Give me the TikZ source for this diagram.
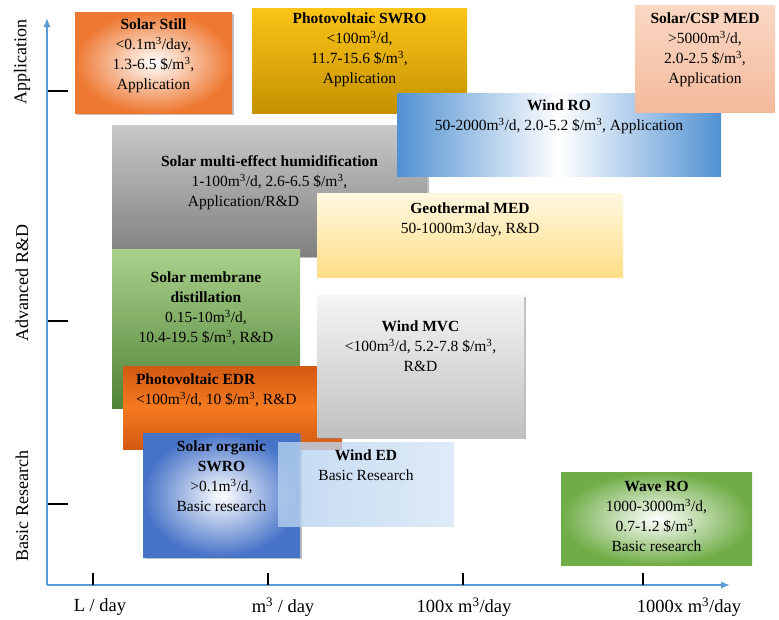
\documentclass[tikz,border=0pt]{standalone}
\usepackage{fontspec}
\setmainfont{Liberation Serif}
\usetikzlibrary{positioning, shadows, arrows.meta}

\definecolor{axisblue}{RGB}{91,155,213}
\definecolor{stillorange}{RGB}{238,120,50}
\definecolor{swroyellow}{RGB}{252,196,24}
\definecolor{swrogold}{RGB}{196,146,0}
\definecolor{csplight}{RGB}{250,216,196}
\definecolor{cspdark}{RGB}{244,186,156}
\definecolor{roblue}{RGB}{80,145,210}
\definecolor{humidlight}{RGB}{200,200,200}
\definecolor{humiddark}{RGB}{128,128,128}
\definecolor{geolight}{RGB}{255,248,225}
\definecolor{geodark}{RGB}{255,222,135}
\definecolor{mdlight}{RGB}{170,210,140}
\definecolor{mddark}{RGB}{80,130,55}
\definecolor{mvclight}{RGB}{245,245,245}
\definecolor{mvcdark}{RGB}{192,192,192}
\definecolor{edrdark}{RGB}{210,90,18}
\definecolor{edrlight}{RGB}{245,122,32}
\definecolor{orgblue}{RGB}{70,115,200}
\definecolor{edlight}{RGB}{215,230,245}
\definecolor{eddark}{RGB}{180,208,238}
\definecolor{wavegreen}{RGB}{112,173,71}

\begin{document}
\begin{tikzpicture}[x=1pt, y=-1pt,
  box/.style={rectangle, inner sep=0pt},
  txt/.style={align=center, inner sep=0pt, font=\fontsize{15.5}{20}\selectfont},
  lvl/.style={rotate=90, font=\fontsize{18}{20}\selectfont},
  scalelabel/.style={font=\fontsize{18.5}{20}\selectfont},
  axisline/.style={draw=axisblue, line width=1.3pt, -{Latex[length=9pt,width=7pt]}},
  tickmark/.style={line width=2.2pt}]
  \useasboundingbox (0,0) rectangle (779,619);

  % technology boxes, back to front
  \node[box, minimum width=157pt, minimum height=101pt, drop shadow, inner color=white, outer color=stillorange] (still) at (153.5,62.5) {};
  \node[txt, below=7pt of still.north] (stilltxt) {\textbf{Solar Still}\\<0.1m\textsuperscript{3}/day,\\1.3-6.5 \$/m\textsuperscript{3},\\Application};

  \node[box, minimum width=215pt, minimum height=105pt, top color=swroyellow, bottom color=swrogold] (pvswro) at (359.5,60.5) {};
  \node[txt, below=5pt of pvswro.north] (pvswrotxt) {\textbf{Photovoltaic SWRO}\\<100m\textsuperscript{3}/d,\\11.7-15.6 \$/m\textsuperscript{3},\\Application};

  \node[box, minimum width=315pt, minimum height=131pt, drop shadow, top color=humidlight, bottom color=humiddark] (humid) at (269.5,190.5) {};
  \node[txt, below=31pt of humid.north] (humidtxt) {\textbf{Solar multi-effect humidification}\\1-100m\textsuperscript{3}/d, 2.6-6.5 \$/m\textsuperscript{3},\hspace*{36pt}\\Application/R\&D\hspace*{52pt}};

  \node[box, minimum width=324pt, minimum height=83pt, left color=roblue, right color=roblue, middle color=white] (windro) at (559,134.5) {};
  \node[txt, below=7pt of windro.north] (windrotxt) {\textbf{Wind RO}\\50-2000m\textsuperscript{3}/d, 2.0-5.2 \$/m\textsuperscript{3}, Application};

  \node[box, minimum width=140pt, minimum height=107pt, top color=csplight, bottom color=cspdark] (csp) at (705,58.5) {};
  \node[txt, below=8pt of csp.north] (csptxt) {\textbf{Solar/CSP MED}\\>5000m\textsuperscript{3}/d,\\2.0-2.5 \$/m\textsuperscript{3},\\Application};

  \node[box, minimum width=306pt, minimum height=84pt, top color=geolight, bottom color=geodark] (geo) at (470,235) {};
  \node[txt, below=10pt of geo.north] (geotxt) {\textbf{Geothermal MED}\\50-1000m3/day, R\&D};

  \node[box, minimum width=188pt, minimum height=159pt, top color=mdlight, bottom color=mddark] (memb) at (206,328.5) {};
  \node[txt, below=23pt of memb.north] (membtxt) {\textbf{Solar membrane}\\\textbf{distillation}\\0.15-10m\textsuperscript{3}/d,\\10.4-19.5 \$/m\textsuperscript{3}, R\&D};

  \node[box, minimum width=219pt, minimum height=83pt, top color=edrdark, bottom color=edrdark, middle color=edrlight] (edr) at (232.5,407.5) {};
  \node[txt, align=left, below right=8pt and 13pt of edr.north west] (edrtxt) {\textbf{Photovoltaic EDR}\\<100m\textsuperscript{3}/d, 10 \$/m\textsuperscript{3}, R\&D};

  \node[box, minimum width=207pt, minimum height=142pt, drop shadow, top color=mvclight, bottom color=mvcdark] (mvc) at (420.5,366) {};
  \node[txt, below=26pt of mvc.north] (mvctxt) {\textbf{Wind MVC}\\<100m\textsuperscript{3}/d, 5.2-7.8 \$/m\textsuperscript{3},\\R\&D};

  \node[box, minimum width=157pt, minimum height=124pt, drop shadow, inner color=white, outer color=orgblue] (organic) at (221.5,495) {};
  \node[txt, below=8pt of organic.north] (organictxt) {\textbf{Solar organic}\\\textbf{SWRO}\\>0.1m\textsuperscript{3}/d,\\Basic research};

  \node[box, minimum width=176pt, minimum height=84pt, fill opacity=0.8, left color=eddark, right color=edlight] (winded) at (366,484) {};
  \node[txt, below=8pt of winded.north] (windedtxt) {\textbf{Wind ED}\\Basic Research};

  \node[box, minimum width=191pt, minimum height=93pt, inner color=white, outer color=wavegreen] (wave) at (656.5,518.5) {};
  \node[txt, below=9pt of wave.north] (wavetxt) {\textbf{Wave RO}\\1000-3000m\textsuperscript{3}/d,\\0.7-1.2 \$/m\textsuperscript{3},\\Basic research};

  % axes
  \coordinate (o) at (47,585);
  \coordinate (ytip) at (47,18);
  \coordinate (xtip) at (730,585);
  \draw[axisline] (o) -- (ytip);
  \draw[axisline] (o) -- (xtip);

  \foreach \y in {91,321,504}
    \draw[tickmark] (48,\y) -- (68,\y);
  \foreach \x in {93,268,463,643}
    \draw[tickmark] (\x,573) -- (\x,585);

  \node[lvl] (app) at (22,62) {Application};
  \node[lvl] (adv) at (22,283) {Advanced R\&D};
  \node[lvl] (basic) at (22,506) {Basic Research};

  \node[scalelabel] (lday) at (100,607) {L / day};
  \node[scalelabel] (mday) at (283,607) {m\textsuperscript{3} / day};
  \node[scalelabel] (hday) at (464,607) {100x m\textsuperscript{3}/day};
  \node[scalelabel] (kday) at (689,607) {1000x m\textsuperscript{3}/day};
\end{tikzpicture}
\end{document}
